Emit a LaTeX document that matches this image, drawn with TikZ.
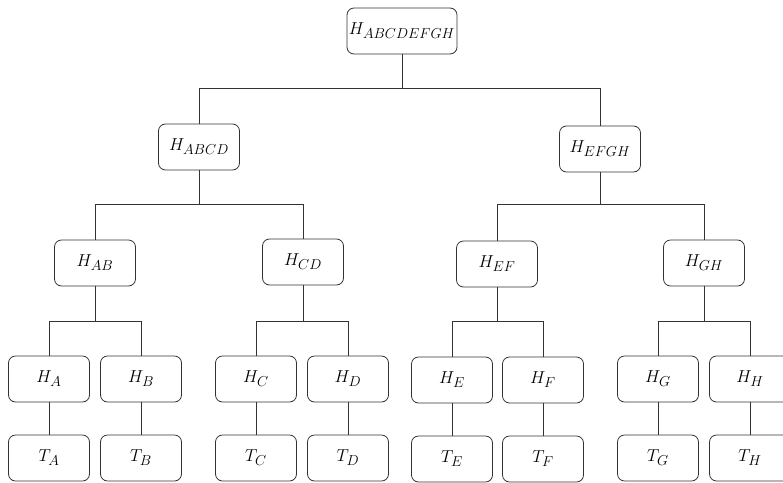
\documentclass[tikz,border=0pt]{standalone}
\begin{document}
\begin{tikzpicture}[x=1pt,y=-1pt,
    hbox/.style={draw=black!80, line width=0.8pt, rounded corners=7pt,
      minimum width=81pt, minimum height=46pt, inner sep=2pt,
      font=\fontsize{19}{22}\selectfont}]
  \useasboundingbox (0,0) rectangle (783,482);
  % bus levels
  \coordinate (bus1) at (0,88);
  \coordinate (bus2) at (0,204);
  \coordinate (bus3) at (0,321);
  % tree levels
  \node[hbox, minimum width=110pt] (root) at (402,31) {$H_{ABCDEFGH}$};
  \node[hbox] (abcd) at (199,147) {$H_{ABCD}$};
  \node[hbox] (efgh) at (600,149) {$H_{EFGH}$};
  \node[hbox] (ab) at (95,263) {$H_{AB}$};
  \node[hbox] (cd) at (303,262) {$H_{CD}$};
  \node[hbox] (ef) at (497,264) {$H_{EF}$};
  \node[hbox] (gh) at (704,263) {$H_{GH}$};
  \node[hbox] (ha) at (49,379) {$H_A$};
  \node[hbox] (hb) at (141,379) {$H_B$};
  \node[hbox] (hc) at (256,379) {$H_C$};
  \node[hbox] (hd) at (348,379) {$H_D$};
  \node[hbox] (he) at (452,380) {$H_E$};
  \node[hbox] (hf) at (543,380) {$H_F$};
  \node[hbox] (hg) at (658,379) {$H_G$};
  \node[hbox] (hh) at (750,379) {$H_H$};
  \node[hbox] (ta) at (49,458) {$T_A$};
  \node[hbox] (tb) at (141,458) {$T_B$};
  \node[hbox] (tc) at (256,458) {$T_C$};
  \node[hbox] (td) at (348,458) {$T_D$};
  \node[hbox] (te) at (452,459) {$T_E$};
  \node[hbox] (tf) at (543,459) {$T_F$};
  \node[hbox] (tg) at (658,458) {$T_G$};
  \node[hbox] (th) at (750,458) {$T_H$};
  \begin{scope}[draw=black!80, line width=0.8pt]
    \draw (root) -- (root |- bus1) -| (abcd);
    \draw (root) -- (root |- bus1) -| (efgh);
    \draw (abcd) -- (abcd |- bus2) -| (ab);
    \draw (abcd) -- (abcd |- bus2) -| (cd);
    \draw (efgh) -- (efgh |- bus2) -| (ef);
    \draw (efgh) -- (efgh |- bus2) -| (gh);
    \draw (ab) -- (ab |- bus3) -| (ha);
    \draw (ab) -- (ab |- bus3) -| (hb);
    \draw (cd) -- (cd |- bus3) -| (hc);
    \draw (cd) -- (cd |- bus3) -| (hd);
    \draw (ef) -- (ef |- bus3) -| (he);
    \draw (ef) -- (ef |- bus3) -| (hf);
    \draw (gh) -- (gh |- bus3) -| (hg);
    \draw (gh) -- (gh |- bus3) -| (hh);
    \draw (ha) -- (ta);
    \draw (hb) -- (tb);
    \draw (hc) -- (tc);
    \draw (hd) -- (td);
    \draw (he) -- (te);
    \draw (hf) -- (tf);
    \draw (hg) -- (tg);
    \draw (hh) -- (th);
  \end{scope}
\end{tikzpicture}
\end{document}
